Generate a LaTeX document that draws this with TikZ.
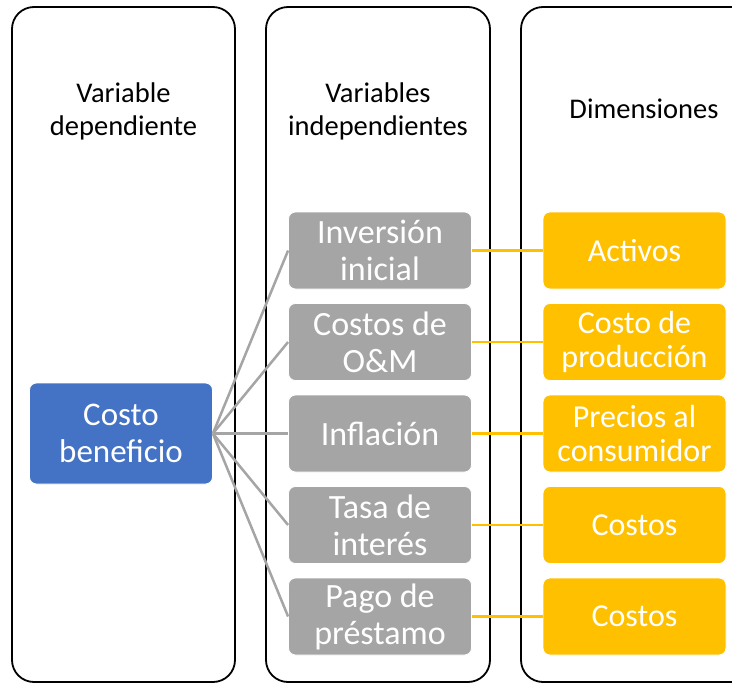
\documentclass[tikz,border=0pt]{standalone}
\usepackage{fontspec}
\setmainfont{Carlito}
\definecolor{cblue}{HTML}{4472C4}
\definecolor{cgrey}{HTML}{A5A5A5}
\definecolor{cyel}{HTML}{FFC000}
\tikzset{
  colbox/.style={draw=black, line width=1.8pt, rounded corners=22pt},
  hdr/.style={align=center, font=\fontsize{28.5}{33}\selectfont, text=black},
  bbox/.style={rectangle, rounded corners=7pt, draw=white, line width=0.8pt,
    minimum width=183pt, minimum height=77pt, inner sep=0pt, align=center, text=white},
  bluebox/.style={bbox, fill=cblue, minimum height=101pt, font=\fontsize{33}{37}\selectfont},
  greybox/.style={bbox, fill=cgrey, font=\fontsize{34}{37}\selectfont},
  yelbox/.style={bbox, fill=cyel, font=\fontsize{32}{34}\selectfont},
  glink/.style={draw=cgrey, line width=2.5pt},
  ylink/.style={draw=cyel, line width=2.8pt}
}
\begin{document}
\begin{tikzpicture}[x=1pt, y=-1pt]
\useasboundingbox (0,0) rectangle (732,683);
\fill[white] (0,0) rectangle (732,683);
% columns
\draw[colbox] (12,7) rectangle (235,682);
\draw[colbox] (266,7) rectangle (490,682);
\draw[colbox] (521,7) rectangle (767,682);
% headers
\node[hdr] (h1) at (123.5,111) {Variable\\dependiente};
\node[hdr] (h2) at (378,111) {Variables\\independientes};
\node[hdr] (h3) at (644,109) {Dimensiones};
% blue
\node[bluebox] (cb) at (121,433.5) {Costo\\beneficio};
% grey
\node[greybox] (g1) at (380,250.5) {Inversión\\inicial};
\node[greybox] (g2) at (380,342) {Costos de\\O\&M};
\node[greybox] (g3) at (380,433.5) {Inflación};
\node[greybox] (g4) at (380,525) {Tasa de\\interés};
\node[greybox] (g5) at (380,616.5) {Pago de\\préstamo};
% yellow
\node[yelbox] (y1) at (634.5,250.5) {Activos};
\node[yelbox] (y2) at (634.5,342) {Costo de\\producción};
\node[yelbox] (y3) at (634.5,433.5) {Precios al\\consumidor};
\node[yelbox] (y4) at (634.5,525) {Costos};
\node[yelbox] (y5) at (634.5,616.5) {Costos};
% links
\foreach \g in {g1,g2,g3,g4,g5} {
  \draw[glink] (cb.east) -- (\g.west);
}
\draw[ylink] (g1.east) -- (y1.west);
\draw[ylink] (g2.east) -- (y2.west);
\draw[ylink] (g3.east) -- (y3.west);
\draw[ylink] (g4.east) -- (y4.west);
\draw[ylink] (g5.east) -- (y5.west);
\end{tikzpicture}
\end{document}
